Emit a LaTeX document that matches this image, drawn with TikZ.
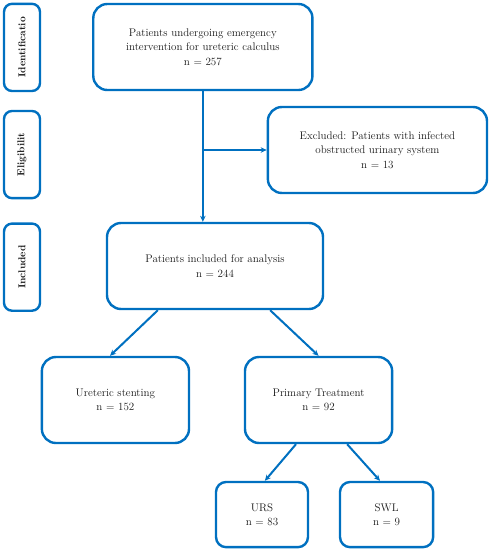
\documentclass[tikz,border=0pt]{standalone}
\usepackage{tikz}
\usetikzlibrary{positioning,arrows.meta,calc}

\definecolor{flowblue}{RGB}{0,112,192}

\begin{document}
\begin{tikzpicture}[>={Stealth[length=6pt,width=5.5pt]},
		every node/.style={font=\fontsize{11}{14.5}\selectfont,text=black!90},
		stage/.style={draw=flowblue,line width=2.4pt,rounded corners=8pt,
			minimum width=1.26cm,minimum height=3.05cm},
		stagetext/.style={rotate=90,font=\fontsize{10}{12}\selectfont\bfseries},
		box/.style={draw=flowblue,line width=2.4pt,rounded corners=14pt,align=center,
			minimum width=7.67cm,minimum height=3.01cm},
		smallbox/.style={draw=flowblue,line width=2.4pt,rounded corners=10pt,align=center,
			minimum width=3.22cm,minimum height=2.28cm},
		link/.style={->,draw=flowblue,line width=2pt},
		]
		
		\useasboundingbox (0,0) rectangle (17.15,-19.25);
		
		% Stages
		\node[stage] (idf) at (0.77,-1.66) {};
		\node[stagetext] at (idf) {Identificatio};
		
		\node[stage] (elig) at (0.77,-5.41) {};
		\node[stagetext] at (elig) {Eligibilit};
		
		\node[stage] (inc) at (0.77,-9.35) {};
		\node[stagetext] at (inc) {Included};
		
		% Boxes
		\node[box] (top) at (7.1,-1.645)
		{Patients undergoing emergency\\intervention for ureteric calculus\\n = 257};
		
		\node[box] (excl) at (13.21,-5.25)
		{Excluded: Patients with infected\\obstructed urinary system\\n = 13};
		
		\node[box,minimum width=7.56cm] (incl) at (7.525,-9.31)
		{Patients included for analysis\\n = 244};
		
		\node[box,minimum width=5.15cm] (stent) at (4.04,-14.0)
		{Ureteric stenting\\n = 152};
		
		\node[box,minimum width=5.15cm] (prim) at (11.15,-14.0)
		{Primary Treatment\\n = 92};
		
		\node[smallbox] (urs) at (9.17,-18.01) {URS\\n = 83};
		
		\node[smallbox,minimum width=3.26cm] (swl) at (13.53,-18.01) {SWL\\n = 9};
		
		% Connectors
		\coordinate (split) at (top.south |- excl.west);
		\draw[link] (top.south) -- (top.south |- incl.north);
		\draw[link] (split) -- (excl.west);
		
		\draw[link] ([xshift=-2cm]incl.south) -- ([xshift=-0.19cm]stent.north);
		\draw[link] ([xshift=1.93cm]incl.south) -- (prim.north);
		
		\draw[link] ([xshift=-0.79cm]prim.south) -- ([xshift=0.1cm]urs.north);
		\draw[link] ([xshift=1cm]prim.south) -- ([xshift=-0.23cm]swl.north);
		
	\end{tikzpicture}
\end{document}
